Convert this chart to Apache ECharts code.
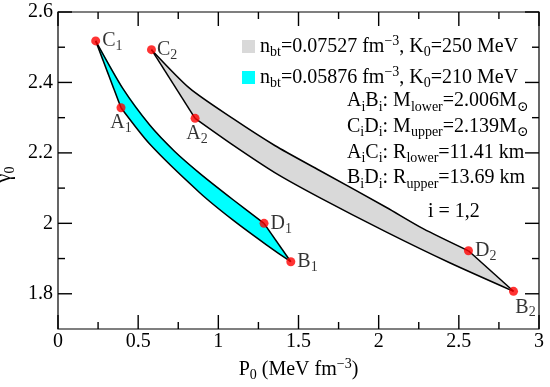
<!DOCTYPE html>
<html>
<head>
<meta charset="utf-8">
<script src="https://cdn.jsdelivr.net/npm/echarts@6/dist/echarts.min.js"></script>
<style>html,body{margin:0;padding:0;background:#fff}#c{width:550px;height:387px}</style>
</head>
<body>
<div id="c"></div>
<script>
// ---- data ----
// region 1 (n_bt=0.05876, K0=210): upper curve C1 -> D1, lower curve A1 -> B1
const upper1 = [[0.235,2.518],[0.404,2.383],[0.572,2.279],[0.728,2.204],[0.884,2.142],[1.092,2.067],[1.285,2.000]];
const lower1 = [[0.393,2.328],[0.572,2.225],[0.884,2.087],[1.092,2.009],[1.300,1.939],[1.452,1.891]];
// region 2 (n_bt=0.07527, K0=250): upper curve C2 -> D2, lower curve A2 -> B2
const upper2 = [[0.583,2.493],[0.822,2.383],[1.092,2.297],[1.352,2.221],[1.632,2.150],[2.049,2.045],[2.277,1.985],[2.560,1.922]];
const lower2 = [[0.855,2.298],[1.092,2.222],[1.352,2.144],[1.632,2.073],[2.049,1.975],[2.443,1.888],[2.841,1.807]];
// ticks
const xMajorTicks = [0,0.5,1,1.5,2,2.5,3];
const xMinorTicks = [0.25,0.75,1.25,1.75,2.25,2.75];
const yMajorTicks = [1.8,2,2.2,2.4,2.6];
const yMinorTicks = [1.9,2.1,2.3,2.5];
const X_MIN = 0, X_MAX = 3, Y_MIN = 1.7, Y_MAX = 2.6;

const FONT = '"Liberation Serif","DejaVu Serif",serif';
function mkRich(lh){
  return {
    m:{fontSize:20,fontFamily:FONT,lineHeight:lh,color:'#000',fill:'#000'},
    s:{fontSize:14,fontFamily:FONT,lineHeight:10,verticalAlign:'bottom',color:'#000',fill:'#000'},
    p:{fontSize:14,fontFamily:FONT,lineHeight:4,verticalAlign:'top',color:'#000',fill:'#000'}
  };
}
const rich = mkRich(25);
const richInfo = mkRich(25.7);

function tickChildren(api){
  const out = [];
  const st = ()=>({stroke:'#000',lineWidth:1.4,fill:null});
  function seg(a,b){out.push({type:'polyline',shape:{points:[a,b]},style:st()});}
  function addX(v,len){
    const b = api.coord([v,Y_MIN]), t = api.coord([v,Y_MAX]);
    seg([b[0],b[1]],[b[0],b[1]-len]);
    seg([t[0],t[1]],[t[0],t[1]+len]);
  }
  function addY(v,len){
    const l = api.coord([X_MIN,v]), r = api.coord([X_MAX,v]);
    seg([l[0],l[1]],[l[0]+len,l[1]]);
    seg([r[0],r[1]],[r[0]-len,r[1]]);
  }
  xMajorTicks.forEach(v=>addX(v,14));
  xMinorTicks.forEach(v=>addX(v,7));
  yMajorTicks.forEach(v=>addY(v,14));
  yMinorTicks.forEach(v=>addY(v,7));
  return out;
}

function makeRender(upper, lower, fill, withTicks){
  return function(params, api){
    const up = upper.map(p=>api.coord(p));
    const lo = lower.map(p=>api.coord(p));
    const poly = up.concat(lo.slice().reverse());
    const ls = ()=>({stroke:'#000',lineWidth:1.5,fill:null});
    let children = [
      {type:'polygon',shape:{points:poly},style:{fill:fill,stroke:fill,lineWidth:0.5}},
      {type:'polyline',shape:{points:up,smooth:0.25},style:ls()},
      {type:'polyline',shape:{points:lo,smooth:0.25},style:ls()},
      {type:'polyline',shape:{points:[up[0],lo[0]]},style:ls()},
      {type:'polyline',shape:{points:[up[up.length-1],lo[lo.length-1]]},style:ls()}
    ];
    if(withTicks) children = children.concat(tickChildren(api));
    return {type:'group',children:children};
  };
}

const pts = [
  {value:upper1[0], lab:'C', sub:'1', label:{position:'right',distance:2}},
  {value:lower1[0], lab:'A', sub:'1', label:{position:'inside',offset:[0,15]}},
  {value:upper1[upper1.length-1], lab:'D', sub:'1', label:{position:'right',distance:2}},
  {value:lower1[lower1.length-1], lab:'B', sub:'1', label:{position:'right',distance:2}},
  {value:upper2[0], lab:'C', sub:'2', label:{position:'right',distance:1}},
  {value:lower2[0], lab:'A', sub:'2', label:{position:'inside',offset:[2,15]}},
  {value:upper2[upper2.length-1], lab:'D', sub:'2', label:{position:'right',distance:2}},
  {value:lower2[lower2.length-1], lab:'B', sub:'2', label:{position:'inside',offset:[12,16]}}
];

const legendText = {
  g:'{m|n}{s|bt}{m|=0.07527 fm}{p|−3}{m|, K}{s|0}{m|=250 MeV}',
  c:'{m|n}{s|bt}{m|=0.05876 fm}{p|−3}{m|, K}{s|0}{m|=210 MeV}'
};

const infoText = [
  '{m|A}{s|i}{m|B}{s|i}{m|: M}{s|lower}{m|=2.006M}{s|⊙}',
  '{m|C}{s|i}{m|D}{s|i}{m|: M}{s|upper}{m|=2.139M}{s|⊙}',
  '{m|A}{s|i}{m|C}{s|i}{m|: R}{s|lower}{m|=11.41 km}',
  '{m|B}{s|i}{m|D}{s|i}{m|: R}{s|upper}{m|=13.69 km}'
].join('\n');

const chart = echarts.init(document.getElementById('c'),null,{renderer:'canvas'});
chart.setOption({
  animation:false,
  grid:{left:58,right:11,top:12,bottom:58,containLabel:false,outerBoundsMode:'none',
    show:true,borderColor:'#000',borderWidth:1.2},
  xAxis:{type:'value',min:X_MIN,max:X_MAX,interval:0.5,
    axisLine:{show:false},axisTick:{show:false},splitLine:{show:false},
    axisLabel:{color:'#000',fontFamily:FONT,fontSize:20,margin:3,
      formatter:v=>String(+(+v).toFixed(2))},
    name:'{m|P}{s|0}{m| (MeV fm}{p|−3}{m|)}',
    nameLocation:'middle',nameGap:27,nameTextStyle:{rich:rich}},
  yAxis:{type:'value',min:Y_MIN,max:Y_MAX,interval:0.1,
    axisLine:{show:false},axisTick:{show:false},splitLine:{show:false},
    axisLabel:{color:'#000',fontFamily:FONT,fontSize:20,margin:5,
      formatter:v=>{const r=+(+v).toFixed(1);return yMajorTicks.includes(r)?String(r):'';}},
    name:'{m|γ}{s|0}',
    nameLocation:'middle',nameGap:30,nameRotate:90,nameTextStyle:{rich:rich,padding:[0,8,0,0]}},
  legend:{
    orient:'vertical',left:242,top:34,padding:0,itemGap:6,
    icon:'rect',itemWidth:13,itemHeight:13,
    itemStyle:{borderWidth:0},
    data:[{name:'g',itemStyle:{color:'#d9d9d9',borderWidth:0}},{name:'c',itemStyle:{color:'#00ffff',borderWidth:0}}],
    formatter:n=>legendText[n],
    textStyle:{rich:rich}
  },
  graphic:[
    {type:'text',left:347,top:91,style:{text:infoText,rich:richInfo,fontFamily:FONT,fontSize:20,fill:'#000'}},
    {type:'text',left:428,top:202,style:{text:'i = 1,2',fontFamily:FONT,fontSize:20,fill:'#000'}}
  ],
  series:[
    {type:'custom',name:'g',renderItem:makeRender(upper2,lower2,'#d9d9d9',true),data:[upper2[0]],
      itemStyle:{color:'#d9d9d9'},silent:true,z:2,clip:false},
    {type:'custom',name:'c',renderItem:makeRender(upper1,lower1,'#00ffff',false),data:[upper1[0]],
      itemStyle:{color:'#00ffff'},silent:true,z:2},
    {type:'scatter',symbolSize:9,itemStyle:{color:'#ff0000'},z:5,
      data:pts,
      label:{show:true,formatter:p=>'{m|'+p.data.lab+'}{s|'+p.data.sub+'}',rich:rich}}
  ]
});
</script>
</body>
</html>
